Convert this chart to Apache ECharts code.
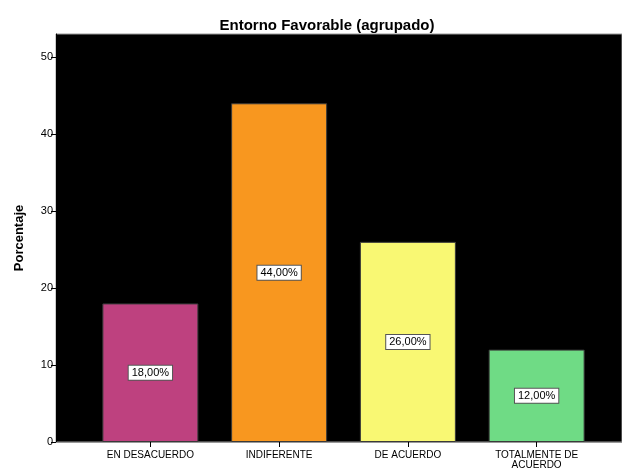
<!DOCTYPE html>
<html>
<head>
<meta charset="utf-8">
<script src="https://cdn.jsdelivr.net/npm/echarts@6/dist/echarts.min.js"></script>
<style>
html,body{margin:0;padding:0;background:#fff;}
#chart{width:622px;height:470px;}
</style>
</head>
<body>
<div id="chart"></div>
<script>
var titleText = 'Entorno Favorable (agrupado)';
var categories = ['EN DESACUERDO', 'INDIFERENTE', 'DE ACUERDO', 'TOTALMENTE DE\nACUERDO'];
var values = [18, 44, 26, 12];
var barColors = ['#BE417F', '#F8971F', '#F9F873', '#6FDB85'];
var yTicks = [0, 10, 20, 30, 40, 50];
var yMax = 53;
var yName = 'Porcentaje';

var font = '"Liberation Sans", Arial, sans-serif';
var chart = echarts.init(document.getElementById('chart'));
chart.setOption({
  animation: false,
  backgroundColor: '#fff',
  title: {
    text: titleText,
    left: 322, textAlign: 'center', top: 13,
    textStyle: {fontFamily: font, fontSize: 15, fontWeight: 'bold', color: '#000'}
  },
  grid: [
    {left: 56, right: 0, top: 34, bottom: 28, show: true, backgroundColor: '#000', borderColor: '#999', borderWidth: 1},
    {left: 86, right: 21, top: 34, bottom: 28}
  ],
  xAxis: [
    {gridIndex: 0, type: 'value', min: 0, max: 1, show: true,
     axisLine: {show: true, onZero: false, lineStyle: {color: '#999', width: 1}},
     axisTick: {show: false}, axisLabel: {show: false}, splitLine: {show: false}},
    {gridIndex: 1, type: 'category', data: categories,
     axisLine: {show: false},
     axisTick: {show: true, alignWithLabel: true, length: 5, lineStyle: {color: '#000'}},
     axisLabel: {fontFamily: font, fontSize: 10, color: '#000', margin: 8, lineHeight: 10, interval: 0}}
  ],
  yAxis: [
    {gridIndex: 0, type: 'value', min: 0, max: yMax,
     name: yName, nameLocation: 'middle', nameGap: 30, nameRotate: 90,
     nameTextStyle: {fontFamily: font, fontSize: 13, fontWeight: 'bold', color: '#000'},
     axisLine: {show: true, lineStyle: {color: '#000'}},
     axisTick: {show: true, length: 5, customValues: yTicks, lineStyle: {color: '#000'}},
     axisLabel: {customValues: yTicks, fontFamily: font, fontSize: 11, color: '#000', margin: 3},
     splitLine: {show: false}},
    {gridIndex: 1, type: 'value', min: 0, max: yMax, show: false, splitLine: {show: false}}
  ],
  series: [{
    type: 'bar',
    xAxisIndex: 1, yAxisIndex: 1,
    barWidth: 96,
    data: values.map(function (v, i) {
      return {value: v, itemStyle: {color: barColors[i]}};
    }),
    itemStyle: {borderColor: '#3a3a3a', borderWidth: 1},
    label: {
      show: true, position: 'inside',
      formatter: function (p) { return p.value.toFixed(2).replace('.', ',') + '%'; },
      fontFamily: font, fontSize: 11, color: '#000',
      backgroundColor: '#fff', borderColor: '#555', borderWidth: 1,
      padding: [2, 3, 1, 3]
    }
  }]
});
</script>
</body>
</html>
